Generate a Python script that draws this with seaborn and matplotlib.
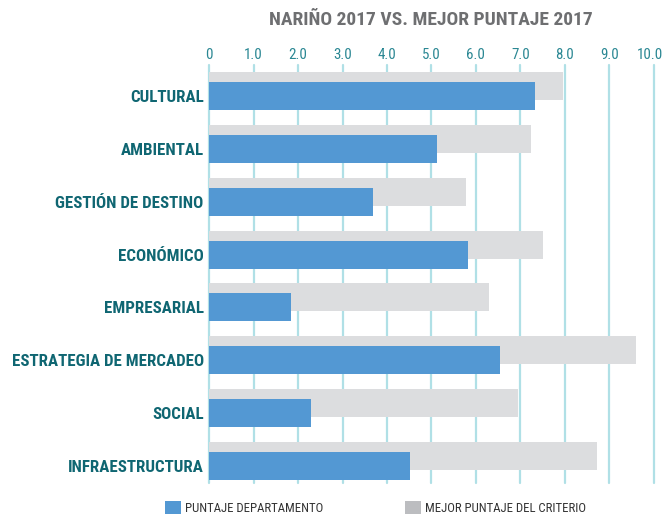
import matplotlib
matplotlib.use("Agg")
import matplotlib.pyplot as plt
import matplotlib.transforms as mtransforms
from matplotlib.patches import Patch
import seaborn as sns
import pandas as pd

# Data: scores per tourism-competitiveness criterion (scale 0-10)
categories = ["CULTURAL", "AMBIENTAL", "GESTIÓN DE DESTINO", "ECONÓMICO",
              "EMPRESARIAL", "ESTRATEGIA DE MERCADEO", "SOCIAL", "INFRAESTRUCTURA"]
puntaje_departamento = [7.34, 5.12, 3.68, 5.82, 1.83, 6.54, 2.29, 4.52]
mejor_puntaje = [7.95, 7.24, 5.78, 7.51, 6.29, 9.60, 6.95, 8.72]
tick_values = [0, 1, 2, 3, 4, 5, 6, 7, 8, 9, 10]
tick_labels = ["0", "1.0", "2.0", "3.0", "4.0", "5.0", "6.0", "7.0", "8.0", "9.0", "10.0"]

df = pd.DataFrame({"criterio": categories,
                   "depto": puntaje_departamento,
                   "mejor": mejor_puntaje})

sns.set_theme(style="white")
plt.rcParams["font.family"] = ["Roboto Condensed", "DejaVu Sans"]
plt.rcParams["font.stretch"] = "condensed"

BLUE = "#5398d3"
GREY = "#dcdddf"
GRID = "#b0e0e6"
TEAL = "#0f6672"
TICK = "#2a8793"

fig = plt.figure(figsize=(6.65, 5.14), dpi=100)
ax = fig.add_axes([0.3147, 0.0603, 0.6683, 0.8132])

# vertical gridlines behind the bars
for v in tick_values:
    ax.axvline(v, color=GRID, lw=1.6, zorder=0, clip_on=False)

# best score bars sit slightly above the department bars
shift_up = ax.transData + mtransforms.ScaledTranslation(0, 0.10, fig.dpi_scale_trans)
sns.barplot(data=df, y="criterio", x="mejor", orient="h", color=GREY,
            saturation=1, width=0.53, linewidth=0, ax=ax, transform=shift_up, zorder=2)
sns.barplot(data=df, y="criterio", x="depto", orient="h", color=BLUE,
            saturation=1, width=0.53, linewidth=0, ax=ax, zorder=3)

ax.set_xlim(0, 10)
ax.set_ylim(7.32, -0.586)
ax.set_xlabel("")
ax.set_ylabel("")
ax.xaxis.tick_top()
ax.set_xticks(tick_values)
ax.set_xticklabels(tick_labels, color=TICK, fontsize=10.8)
ax.tick_params(axis="x", length=0, pad=2)
ax.tick_params(axis="y", length=0, pad=4)
# keep the rightmost tick label inside the canvas
last = ax.get_xticklabels()[-1]
last.set_horizontalalignment("right")
last.set_transform(last.get_transform()
                   + mtransforms.ScaledTranslation(0.09, 0, fig.dpi_scale_trans))
for lab in ax.get_yticklabels():
    lab.set_color(TEAL)
    lab.set_fontweight("bold")
    lab.set_fontsize(12.2)
for s in ax.spines.values():
    s.set_visible(False)

fig.text(0.648, 0.961, "NARIÑO 2017 VS. MEJOR PUNTAJE 2017", ha="center", va="center",
         fontsize=14, fontweight="bold", color="#6e6f71")

handles = [Patch(facecolor=BLUE, edgecolor="none"),
           Patch(facecolor="#bcbdc0", edgecolor="none")]
fig.legend(handles, ["PUNTAJE DEPARTAMENTO", "MEJOR PUNTAJE DEL CRITERIO"],
           ncol=2, loc="lower left", bbox_to_anchor=(165 / 665, -0.002), frameon=False,
           borderpad=0, borderaxespad=0,
           fontsize=9.2, handlelength=1.25, handleheight=1.3, handletextpad=0.3,
           columnspacing=6.4, labelcolor="#333333")

fig.savefig("out.png", dpi=100)
